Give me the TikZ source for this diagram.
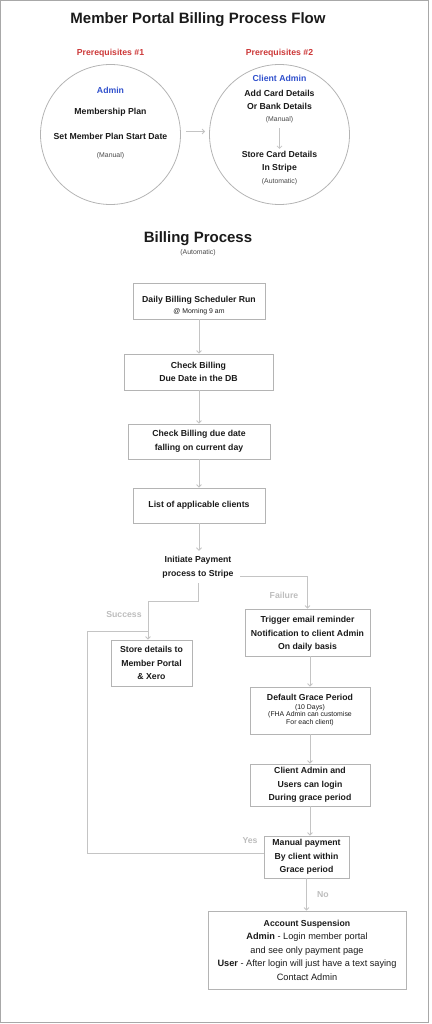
\documentclass[tikz,border=0pt]{standalone}
\usepackage{fontspec}
\setmainfont{Liberation Sans}
\usetikzlibrary{arrows.meta}
\definecolor{boxgray}{HTML}{B4B4B4}
\definecolor{arrgray}{HTML}{C4C4C4}
\definecolor{lblgray}{HTML}{BDBDBD}
\definecolor{framegray}{HTML}{A8A8A8}
\definecolor{prered}{HTML}{CC3838}
\definecolor{adminblue}{HTML}{3050CC}
\definecolor{txt}{HTML}{1A1A1A}
\newcommand{\ttlfont}{\fontsize{15}{18}\selectfont\bfseries}
\newcommand{\bxfont}{\fontsize{8.7}{13.5}\selectfont\bfseries}
\newcommand{\smfont}{\fontsize{6.9}{7.6}\selectfont\mdseries}
\newcommand{\rgfont}{\fontsize{9.2}{13.6}\selectfont\mdseries}
\tikzset{
  boxnode/.style={draw=boxgray, line width=0.8pt, align=center, inner sep=0pt, text=txt, font=\bxfont},
  txtnode/.style={align=center, inner sep=0pt, text=txt, font=\bxfont},
  smnode/.style={align=center, inner sep=0pt, text=txt!80, font=\smfont},
  arr/.style={draw=arrgray, line width=0.8pt, -{Straight Barb[length=2.5pt,width=5pt]}},
  plainline/.style={draw=arrgray, line width=0.8pt},
  lbl/.style={inner sep=0pt, text=lblgray, font=\bxfont},
  circ/.style={draw=boxgray, line width=0.8pt, circle, minimum size=140pt, inner sep=0pt},
}
\begin{document}
\begin{tikzpicture}[x=1pt,y=-1pt]
\useasboundingbox (0,0) rectangle (431,1024);
\draw[draw=framegray, line width=1.4pt] (0.7,0.7) rectangle (428.5,1022.3);

% titles
\node[txtnode, font=\ttlfont] (title) at (198,20) {Member Portal Billing Process Flow};
\node[txtnode, text=prered] (pre1) at (110.5,53) {Prerequisites \#1};
\node[txtnode, text=prered] (pre2) at (279.5,53) {Prerequisites \#2};

% circles
\node[circ] (c1) at (110.5,134.5) {};
\node[circ] (c2) at (279.5,134.5) {};
\draw[arr] ([xshift=5pt,yshift=3pt]c1.east) -- ([xshift=-4pt,yshift=3pt]c2.west);

\node[txtnode, text=adminblue] (adm) at (110.5,90) {Admin};
\node[txtnode] (mplan) at (110.5,112) {Membership Plan};
\node[txtnode] (mstart) at (110.5,136) {Set Member Plan Start Date};
\node[smnode] (man1) at (110.5,156) {(Manual)};

\node[txtnode, text=adminblue] (cadm) at (279.5,78) {Client Admin};
\node[txtnode] (addcard) at (279.5,100) {Add Card Details\\Or Bank Details};
\node[smnode] (man2) at (279.5,120) {(Manual)};
\node[txtnode] (storecard) at (279.5,162) {Store Card Details\\In Stripe};
\node[smnode] (auto2) at (279.5,182) {(Automatic)};
\draw[arr] ([yshift=-5pt]man2.south) -- ([yshift=2pt]storecard.north);

% billing process heading
\node[txtnode, font=\ttlfont] (bp) at (198,239) {Billing Process};
\node[smnode] (bpauto) at (198,253) {(Automatic)};

% main boxes
\node[boxnode, minimum width=132pt, minimum height=36pt] (b1) at (199,301)
  {\rule{0pt}{15pt}Daily Billing Scheduler Run\\[-2pt]{\smfont @ Morning 9 am}};
\node[boxnode, minimum width=149pt, minimum height=36pt] (b2) at (198.5,372)
  {Check Billing\\Due Date in the DB};
\node[boxnode, minimum width=142pt, minimum height=35pt] (b3) at (199,441.5)
  {Check Billing due date\\falling on current day};
\node[boxnode, minimum width=132pt, minimum height=35pt] (b4) at (199,505.5)
  {List of applicable clients};
\node[txtnode, minimum width=84pt, minimum height=32pt] (init) at (198,567)
  {Initiate Payment\\process to Stripe};

\draw[arr] (b1.south) -- (b1.south |- b2.north);
\draw[arr] (b2.south -| b1.south) -- (b1.south |- b3.north);
\draw[arr] (b3.south -| b1.south) -- (b1.south |- b4.north);
\draw[arr] (b4.south) -- (b4.south |- init.north);

% branches
\node[boxnode, minimum width=81pt, minimum height=46pt] (store) at (151.5,663)
  {Store details to\\Member Portal\\\& Xero};
\node[boxnode, minimum width=125pt, minimum height=47pt] (trig) at (307.5,632.5)
  {\rule{0pt}{9pt}Trigger email reminder\\Notification to client Admin\\On daily basis};
\node[boxnode, minimum width=120pt, minimum height=47pt] (grace) at (310,710.5)
  {Default Grace Period\\[-5.3pt]{\smfont\begin{tabular}[t]{@{}c@{}}(10 Days)\\(FHA Admin can customise\\For each client)\end{tabular}}};
\node[boxnode, minimum width=120pt, minimum height=42pt] (cal) at (310,785)
  {Client Admin and\\Users can login\\During grace period};
\node[boxnode, minimum width=85pt, minimum height=42pt] (manp) at (306.5,857)
  {Manual payment\\By client within\\Grace period};
\node[boxnode, minimum width=198pt, minimum height=78pt] (susp) at (307,950)
  {Account Suspension\\{\rgfont\textbf{Admin} - Login member portal}\\{\rgfont and see only payment page}\\{\rgfont\textbf{User} - After login will just have a text saying}\\{\rgfont Contact Admin}};

\coordinate (sj) at (148,601);
\coordinate (lj) at (148,631);
\coordinate (lc) at (87,631);

\draw[arr] ([yshift=-9pt]init.east) -| (trig.north);
\draw[arr] (init.south) |- (sj) -- (sj |- store.north);
\draw[arr] (grace.north |- trig.south) -- (grace.north);
\draw[arr] (grace.south) -- (cal.north);
\draw[arr] (cal.south) -- (cal.south |- manp.north);
\draw[arr] (manp.south) -- (manp.south |- susp.north);
\draw[plainline] ([yshift=4pt]manp.west) -| (lc) -- (lj);

\node[lbl] (lfail) at (284,595) {Failure};
\node[lbl] (lsucc) at (124,614) {Success};
\node[lbl] (lyes) at (250,841) {Yes};
\node[lbl] (lno) at (323,895) {No};
\end{tikzpicture}
\end{document}
